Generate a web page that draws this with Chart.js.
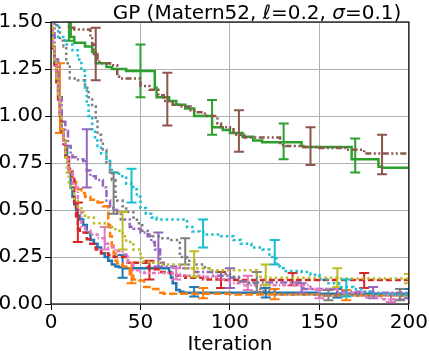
<!DOCTYPE html>
<html><head><meta charset="utf-8">
<script src="https://cdn.jsdelivr.net/npm/chart.js@4"></script>
<style>html,body{margin:0;padding:0;background:#fff;}#wrap{width:429px;height:351px;}</style>
</head><body>
<div id="wrap"><canvas id="c" width="429" height="351"></canvas></div>
<script>
// ---- data ----
const xTicks = [0, 50, 100, 150, 200];
const yTicks = [0, 0.25, 0.5, 0.75, 1.0, 1.25, 1.5];
const xLabel = 'Iteration';
const titleParts = [['GP (Matern52, ', false], ['ℓ', true], ['=0.2, ', false], ['σ', true], ['=0.1)', false]];

// [iteration, best value]
const blueLine = [[0,1.6],[1,1.45],[2,1.36],[3,1.28],[4,1.2],[5,1.1],[6,1.0],[7,0.93],[8,0.87],[9,0.83],[10,0.78],[11,0.7],[12,0.62],[13,0.57],[14,0.53],[15,0.5],[16,0.47],[18,0.45],[20,0.42],[22,0.38],[24,0.34],[26,0.32],[28,0.3],[30,0.27],[32,0.25],[34,0.23],[36,0.21],[38,0.2],[40,0.195],[66,0.19],[67,0.17],[68,0.14],[70,0.11],[72,0.075],[74,0.065],[150,0.06],[200,0.055]];
const orangeLine = [[0,1.65],[1,1.47],[2,1.38],[3,1.3],[4,1.2],[5,1.1],[6,1.0],[7,0.93],[8,0.87],[10,0.78],[12,0.7],[14,0.65],[15,0.63],[17,0.61],[19,0.59],[22,0.57],[26,0.555],[29,0.54],[32,0.52],[33,0.42],[34,0.36],[35,0.31],[36,0.27],[37,0.23],[40,0.215],[44,0.2],[46,0.16],[48,0.13],[52,0.125],[56,0.09],[60,0.08],[63,0.06],[100,0.055],[150,0.05],[200,0.045]];
const greenLine = [[0,2.0],[8,1.7],[11,1.55],[13,1.42],[19,1.39],[23,1.37],[25,1.34],[31,1.28],[34,1.26],[42,1.25],[44,1.24],[58,1.24],[59,1.15],[66,1.1],[70,1.08],[75,1.06],[80,1.04],[82,1.0],[90,1.0],[96,0.94],[100,0.925],[107,0.91],[113,0.89],[118,0.87],[140,0.86],[141,0.84],[168,0.835],[170,0.77],[183,0.77],[185,0.73],[200,0.725]];
const redLine = [[0,1.65],[1,1.45],[2,1.36],[3,1.27],[4,1.18],[5,1.08],[6,0.98],[7,0.9],[8,0.85],[10,0.78],[12,0.72],[13,0.68],[14,0.55],[15,0.45],[16,0.4],[17,0.39],[20,0.38],[22,0.345],[25,0.32],[28,0.29],[32,0.27],[35,0.26],[43,0.25],[44,0.22],[54,0.22],[55,0.2],[60,0.185],[65,0.17],[70,0.165],[75,0.15],[85,0.14],[95,0.13],[200,0.128]];
const purpleLine = [[0,1.8],[2,1.5],[4,1.3],[6,1.1],[8,0.97],[9.5,0.92],[11,0.84],[12,0.79],[14,0.78],[18,0.77],[20,0.76],[22,0.71],[25,0.68],[29,0.66],[31,0.62],[33,0.55],[35,0.51],[37,0.5],[39,0.48],[44,0.45],[46,0.41],[50,0.4],[54,0.38],[56,0.36],[58,0.33],[61,0.29],[63,0.22],[72,0.2],[80,0.19],[90,0.17],[100,0.15],[105,0.14],[110,0.12],[140,0.115],[141,0.085],[160,0.08],[180,0.065],[200,0.06]];
const brownLine = [[0,2.2],[10,1.75],[13,1.47],[22,1.46],[23,1.42],[24,1.38],[26,1.33],[27,1.3],[33,1.28],[37,1.27],[38,1.21],[50,1.2],[55,1.16],[60,1.14],[63,1.11],[68,1.08],[73,1.06],[78,1.05],[80,1.03],[86,1.02],[93,1.0],[95,0.96],[100,0.94],[102,0.93],[108,0.9],[110,0.885],[128,0.885],[131,0.845],[139,0.84],[150,0.835],[165,0.83],[175,0.82],[185,0.8],[200,0.8]];
const pinkLine = [[0,1.7],[1,1.46],[2,1.37],[3,1.29],[4,1.2],[5,1.1],[6,1.0],[7,0.92],[8,0.87],[10,0.77],[12,0.7],[14,0.64],[15,0.62],[17,0.5],[19,0.41],[22,0.39],[26,0.37],[30,0.35],[32,0.32],[36,0.3],[40,0.28],[43,0.265],[46,0.22],[50,0.18],[52,0.17],[68,0.165],[72,0.16],[85,0.15],[94,0.145],[100,0.13],[108,0.11],[145,0.1],[160,0.08],[175,0.06],[185,0.035],[200,0.025]];
const grayLine = [[0,1.9],[3,1.55],[5,1.47],[7,1.4],[8.5,1.37],[10.5,1.28],[12,1.2],[15,1.2],[19,1.19],[21,1.15],[23,1.1],[25,1.05],[26,0.98],[28,0.9],[29,0.87],[31,0.82],[33,0.75],[34,0.71],[36,0.66],[37,0.57],[40,0.55],[42,0.52],[46,0.49],[48,0.46],[51,0.43],[54,0.39],[57,0.37],[61,0.36],[66,0.35],[72,0.34],[76,0.25],[80,0.23],[86,0.21],[90,0.19],[95,0.17],[100,0.16],[105,0.145],[110,0.12],[115,0.11],[117,0.085],[125,0.07],[132,0.05],[150,0.05],[175,0.045],[200,0.045]];
const oliveLine = [[0,1.7],[1,1.47],[2,1.38],[3,1.3],[4,1.2],[5,1.1],[6,1.0],[7,0.93],[8,0.87],[9,0.78],[10,0.7],[11,0.64],[13,0.61],[15,0.56],[17,0.52],[19,0.49],[24,0.46],[30,0.43],[36,0.41],[40,0.39],[42,0.36],[46,0.33],[50,0.29],[51,0.245],[57,0.225],[61,0.22],[75,0.21],[89,0.19],[115,0.18],[120,0.145],[160,0.14],[200,0.135]];
const cyanLine = [[0,1.8],[3,1.52],[4,1.48],[8,1.42],[12,1.38],[15,1.35],[17,1.3],[19,1.24],[20,1.15],[21,1.07],[23,1.0],[24.6,0.93],[26,0.87],[28,0.84],[31,0.8],[33,0.76],[34,0.73],[38,0.7],[42,0.68],[46,0.64],[48,0.61],[50,0.57],[53,0.51],[56,0.48],[59,0.46],[76,0.45],[79,0.41],[83,0.385],[87,0.38],[95,0.37],[102,0.36],[106,0.34],[112,0.32],[118,0.3],[122,0.29],[126,0.25],[128,0.2],[130,0.19],[140,0.175],[145,0.17],[150,0.155],[155,0.13],[161,0.11],[169,0.09],[175,0.08],[180,0.065],[190,0.055],[200,0.05]];

// [iteration, lower, upper]
const blueErr = [[0,1.42,1.78],[40,0.14,0.26],[80,0.04,0.09],[120,0.035,0.085],[160,0.035,0.08],[200,0.03,0.08]];
const orangeErr = [[5,0.91,1.28],[45,0.11,0.22],[85,0.03,0.085],[125,0.025,0.08],[165,0.02,0.075]];
const greenErr = [[10,1.4,1.8],[50,1.1,1.38],[90,0.9,1.085],[130,0.77,0.96],[170,0.7,0.88]];
const redErr = [[15,0.33,0.54],[55,0.13,0.23],[95,0.085,0.17],[135,0.1,0.165],[175,0.085,0.165]];
const purpleErr = [[20,0.62,0.93],[60,0.2,0.38],[100,0.085,0.19],[140,0.06,0.11],[180,0.03,0.09]];
const brownErr = [[25,1.19,1.47],[65,0.95,1.23],[105,0.81,1.03],[145,0.74,0.94],[185,0.69,0.9]];
const pinkErr = [[30,0.29,0.41],[70,0.13,0.19],[110,0.075,0.15],[150,0.03,0.075],[190,0.01,0.05]];
const grayErr = [[35,0.48,0.7],[75,0.21,0.35],[115,0.065,0.17],[155,0.02,0.075],[195,0.02,0.08]];
const oliveErr = [[40,0.29,0.49],[80,0.145,0.28],[120,0.1,0.21],[160,0.09,0.19],[200,0.11,0.16]];
const cyanErr = [[45,0.54,0.72],[85,0.3,0.45],[125,0.21,0.34],[165,0.04,0.13]];

// ---- styles ----
const series = [
  {line: blueLine,   err: blueErr,   color: '#1f77b4', dash: []},
  {line: orangeLine, err: orangeErr, color: '#ff7f0e', dash: [8, 3]},
  {line: greenLine,  err: greenErr,  color: '#2ca02c', dash: []},
  {line: redLine,    err: redErr,    color: '#d62728', dash: [6, 3]},
  {line: purpleLine, err: purpleErr, color: '#9467bd', dash: [7, 2.5, 2, 2.5]},
  {line: brownLine,  err: brownErr,  color: '#8c564b', dash: [6, 2.5, 2, 2.5, 2, 2.5]},
  {line: pinkLine,   err: pinkErr,   color: '#e377c2', dash: [4, 2, 1.5, 2]},
  {line: grayLine,   err: grayErr,   color: '#7f7f7f', dash: [2.5, 3]},
  {line: oliveLine,  err: oliveErr,  color: '#bcbd22', dash: [2.5, 3]},
  {line: cyanLine,   err: cyanErr,   color: '#17becf', dash: [2.5, 3]},
];

const FONT = 'DejaVu Sans';

const errorBarPlugin = {
  id: 'errbars',
  afterDatasetDraw(chart, args) {
    const ds = chart.data.datasets[args.index];
    const {ctx, chartArea, scales: {x, y}} = chart;
    ctx.save();
    ctx.beginPath();
    ctx.rect(chartArea.left, chartArea.top, chartArea.width, chartArea.height);
    ctx.clip();
    ctx.strokeStyle = ds.borderColor;
    ctx.lineWidth = 2;
    ctx.setLineDash([]);
    ds.errors.forEach(([xv, lo, hi]) => {
      const px = x.getPixelForValue(xv), p1 = y.getPixelForValue(lo), p2 = y.getPixelForValue(hi);
      ctx.beginPath();
      ctx.moveTo(px, p1); ctx.lineTo(px, p2);
      ctx.moveTo(px - 5, p1); ctx.lineTo(px + 5, p1);
      ctx.moveTo(px - 5, p2); ctx.lineTo(px + 5, p2);
      ctx.stroke();
    });
    ctx.restore();
  }
};

const framePlugin = {
  id: 'frame',
  afterDraw(chart) {
    const {ctx, chartArea: a} = chart;
    ctx.save();
    ctx.strokeStyle = '#000';
    ctx.lineWidth = 1.2;
    ctx.strokeRect(a.left, a.top, a.right - a.left, a.bottom - a.top);
    // title
    ctx.fillStyle = '#000';
    ctx.textBaseline = 'alphabetic';
    let total = 0;
    const widths = titleParts.map(([t, it]) => {
      ctx.font = (it ? 'italic ' : '') + '20px "' + FONT + '"';
      const w = ctx.measureText(t).width; total += w; return w;
    });
    let xpos = 257 - total / 2;
    titleParts.forEach(([t, it], i) => {
      ctx.font = (it ? 'italic ' : '') + '20px "' + FONT + '"';
      ctx.fillText(t, xpos, 18.5);
      xpos += widths[i];
    });
    ctx.restore();
  }
};

new Chart(document.getElementById('c'), {
  type: 'line',
  data: {
    datasets: series.map((s, i) => ({
      data: s.line.map(([x, y]) => ({x, y})),
      errors: s.err,
      borderColor: s.color,
      backgroundColor: s.color,
      borderWidth: 2.5,
      borderDash: s.dash,
      stepped: 'after',
      pointRadius: 0,
      fill: false,
      order: 9 - i,
    }))
  },
  options: {
    responsive: false,
    animation: false,
    devicePixelRatio: 1,
    layout: {padding: {left: 0, right: 20, top: 22, bottom: 0}},
    plugins: {legend: {display: false}, tooltip: {enabled: false}, title: {display: false}},
    scales: {
      x: {
        type: 'linear', min: xTicks[0], max: xTicks[xTicks.length - 1],
        afterBuildTicks: s => { s.ticks = xTicks.map(v => ({value: v})); },
        afterFit: s => { s.height = 47; },
        ticks: {font: {family: FONT, size: 20}, color: '#000', padding: 1, maxRotation: 0, autoSkip: false},
        grid: {color: '#b0b0b0', lineWidth: 1, tickColor: '#000', tickLength: 6, tickWidth: 1},
        border: {display: false},
        title: {display: true, text: xLabel, font: {family: FONT, size: 20}, color: '#000', padding: {top: 0, bottom: -6}}
      },
      y: {
        type: 'linear', min: yTicks[0], max: yTicks[yTicks.length - 1],
        afterBuildTicks: s => { s.ticks = yTicks.map(v => ({value: v})); },
        afterFit: s => { s.width = 51; },
        ticks: {font: {family: FONT, size: 20}, color: '#000', padding: 2, callback: v => v.toFixed(2)},
        grid: {color: '#b0b0b0', lineWidth: 1, tickColor: '#000', tickLength: 6, tickWidth: 1},
        border: {display: false}
      }
    }
  },
  plugins: [errorBarPlugin, framePlugin]
});
</script>
</body></html>
